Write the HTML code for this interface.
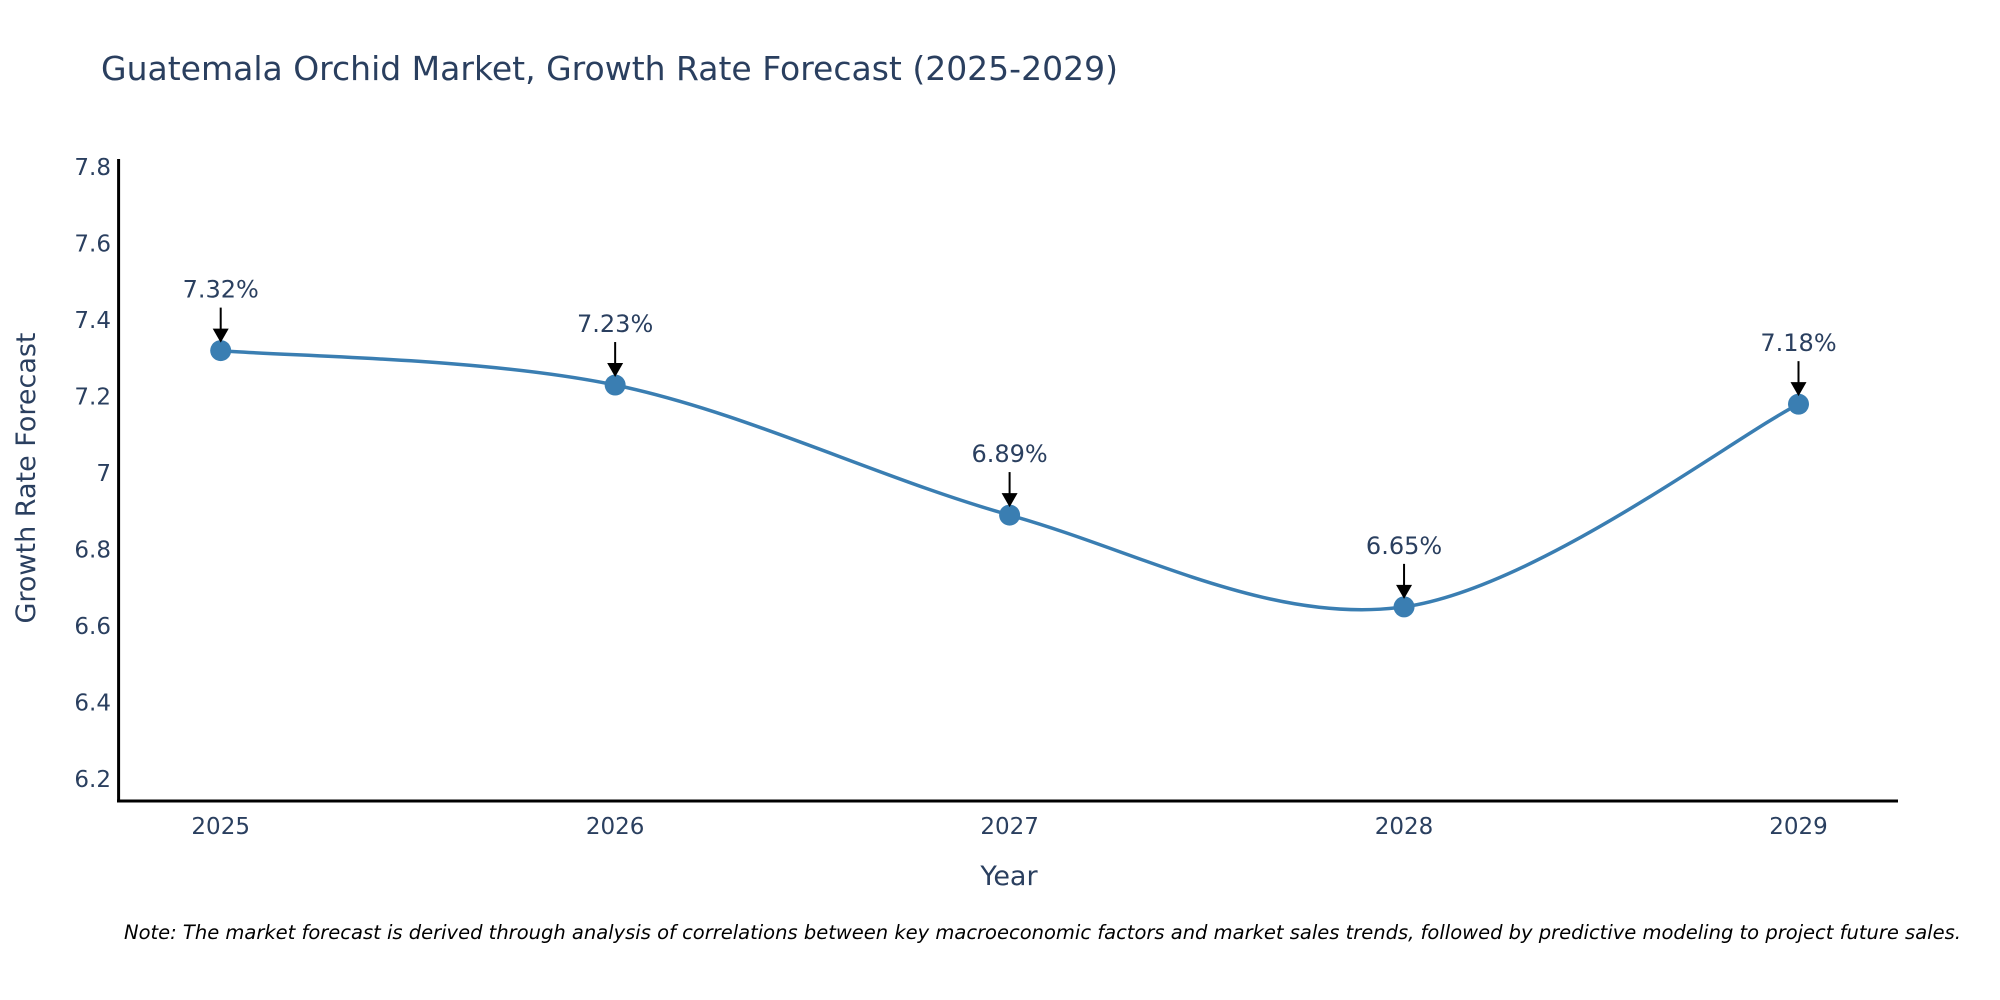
<!DOCTYPE html>
<html><head><meta charset="utf-8"><style>
body{margin:0;background:#fff;}
svg{display:block;font-family:"DejaVu Sans","Liberation Sans",sans-serif;}
</style></head><body>
<svg id="chart" width="2000" height="1000">
<text x="101" y="80" font-size="33" fill="#2a3f5f">Guatemala Orchid Market, Growth Rate Forecast (2025-2029)</text>
<g id="yticks"></g><g id="xticks"></g>
<line x1="118.6" y1="159" x2="118.6" y2="802" stroke="#000" stroke-width="3"/>
<line x1="117" y1="801" x2="1898" y2="801" stroke="#000" stroke-width="3"/>
<path id="line" fill="none" stroke="#3a7eb2" stroke-width="3.5"/>
<g id="marks"></g>
<text x="1009" y="885" font-size="27" fill="#2a3f5f" text-anchor="middle">Year</text>
<text transform="translate(35,478) rotate(-90)" font-size="27" fill="#2a3f5f" text-anchor="middle">Growth Rate Forecast</text>
<text x="124" y="939" font-size="19.5" font-style="italic" fill="#000">Note: The market forecast is derived through analysis of correlations between key macroeconomic factors and market sales trends, followed by predictive modeling to project future sales.</text>
</svg>
<script>
const years=[2025,2026,2027,2028,2029];
const rates=[7.32,7.23,6.89,6.65,7.18];
const labels=["7.32%","7.23%","6.89%","6.65%","7.18%"];
const yTicks=[6.2,6.4,6.6,6.8,7,7.2,7.4,7.6,7.8];
const NS="http://www.w3.org/2000/svg";
function xs(v){return 220.7+(v-2025)*394.45;}
function ys(v){return 779-(v-6.2)*382.5;}
const yt=document.getElementById('yticks');
yTicks.forEach(t=>{const e=document.createElementNS(NS,'text');
e.setAttribute('x',111);e.setAttribute('y',ys(t)+8);e.setAttribute('font-size','23');e.setAttribute('fill','#2a3f5f');e.setAttribute('text-anchor','end');


e.textContent=String(t);yt.appendChild(e);});
const xt=document.getElementById('xticks');
years.forEach(y=>{const e=document.createElementNS(NS,'text');
e.setAttribute('x',xs(y));e.setAttribute('y',834);e.setAttribute('font-size','23');e.setAttribute('fill','#2a3f5f');e.setAttribute('text-anchor','middle');


e.textContent=String(y);xt.appendChild(e);});
const P=years.map((y,i)=>[xs(y),ys(rates[i])]);
let d='M'+P[0][0]+','+P[0][1];
for(let i=0;i<P.length-1;i++){const p0=P[Math.max(0,i-1)],p1=P[i],p2=P[i+1],p3=P[Math.min(P.length-1,i+2)];
const c1=[p1[0]+(p2[0]-p0[0])/6,p1[1]+(p2[1]-p0[1])/6],c2=[p2[0]-(p3[0]-p1[0])/6,p2[1]-(p3[1]-p1[1])/6];
d+=' C'+c1[0]+','+c1[1]+' '+c2[0]+','+c2[1]+' '+p2[0]+','+p2[1];}
document.getElementById('line').setAttribute('d',d);
const m=document.getElementById('marks');
P.forEach((p,i)=>{
const c=document.createElementNS(NS,'circle');c.setAttribute('cx',p[0]);c.setAttribute('cy',p[1]);c.setAttribute('r',10.5);c.setAttribute('fill','#3a7eb2');


m.appendChild(c);
const l=document.createElementNS(NS,'line');l.setAttribute('x1',p[0]);l.setAttribute('x2',p[0]);l.setAttribute('y1',p[1]-43);l.setAttribute('y2',p[1]-20);l.setAttribute('stroke','#000');l.setAttribute('stroke-width','2');


m.appendChild(l);
const a=document.createElementNS(NS,'path');a.setAttribute('d',`M${p[0]-8},${p[1]-22} L${p[0]+8},${p[1]-22} L${p[0]},${p[1]-8} Z`);a.setAttribute('fill','#000');


m.appendChild(a);
const t=document.createElementNS(NS,'text');t.setAttribute('x',p[0]);t.setAttribute('y',p[1]-53);t.setAttribute('font-size','24');t.setAttribute('fill','#2a3f5f');t.setAttribute('text-anchor','middle');


t.textContent=labels[i];m.appendChild(t);});
</script>
</body></html>
